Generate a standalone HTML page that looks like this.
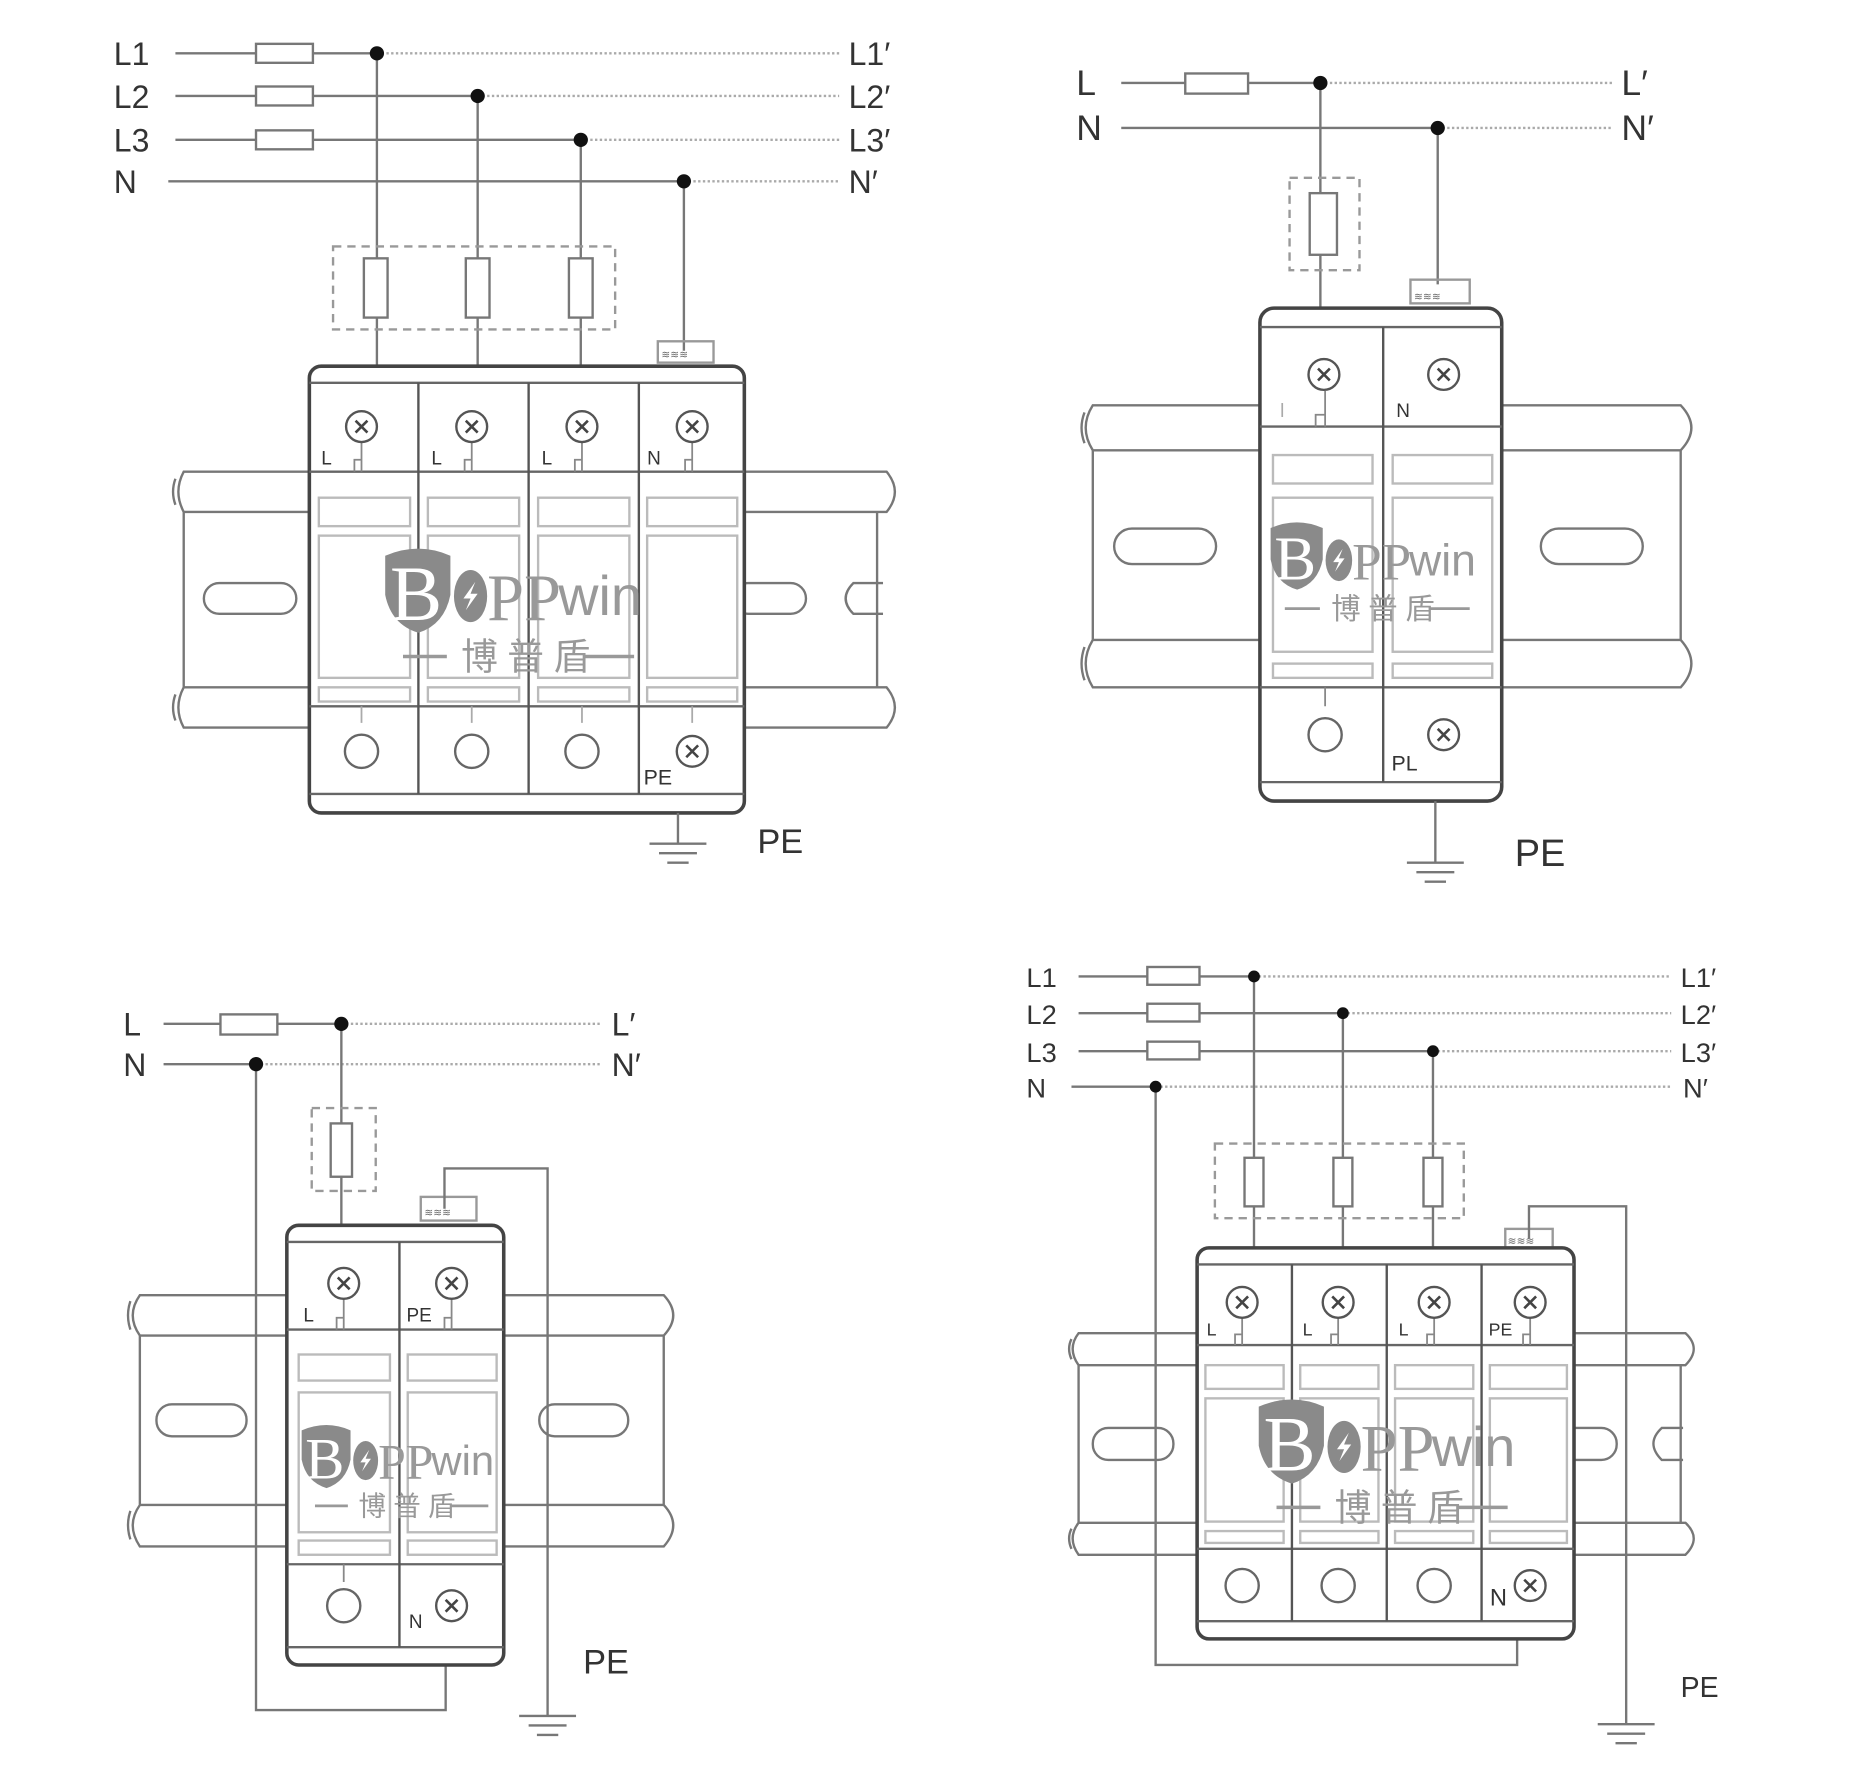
<!DOCTYPE html>
<html><head><meta charset="utf-8"><style>html,body{margin:0;padding:0;background:#fff}svg{display:block}</style></head>
<body>
<svg width="1849" height="1774" viewBox="0 0 1560 1497" preserveAspectRatio="none" xmlns="http://www.w3.org/2000/svg" font-family="Liberation Sans, sans-serif">
<defs>
<g id="sc"><circle r="13" fill="#fff" stroke="#555" stroke-width="2"/><path d="M-5,-5L5,5M5,-5L-5,5" stroke="#444" stroke-width="2.2"/></g>
<g id="oc"><circle r="14" fill="#fff" stroke="#666" stroke-width="2"/></g>
</defs>
<rect width="1560" height="1497" fill="#fff"/>
<g fill="none" stroke="#777" stroke-width="2">

<path d="M148,45H318M148,81H403M148,118H490M142,153H577"/>
<path d="M318,45H708M403,81H708M490,118H708M577,153H708" stroke="#aaa" stroke-dasharray="2,2"/>
<rect x="216" y="37" width="48" height="16" fill="#fff"/><rect x="216" y="73" width="48" height="16" fill="#fff"/><rect x="216" y="110" width="48" height="16" fill="#fff"/>
<path d="M318,45V310M403,81V310M490,118V310M577,153V296"/>
<rect x="281" y="208" width="238" height="70" stroke="#999" stroke-dasharray="7,5"/>
<rect x="307" y="218" width="20" height="50" fill="#fff"/><rect x="393" y="218" width="20" height="50" fill="#fff"/><rect x="480" y="218" width="20" height="50" fill="#fff"/>
<rect x="555" y="288" width="47" height="18" stroke="#999"/>
<path d="M261,398H155Q146,415 155,432H261M155,432V580M261,580H155Q146,597 155,614H261" />
<path d="M148,404Q144,415 148,426M148,586Q144,597 148,608"/>
<rect x="172" y="492" width="78" height="26" rx="13"/>
<path d="M628,398H748Q762,415 748,432H628M740,432V580M628,580H748Q762,597 748,614H628"/>
<rect x="618" y="492" width="62" height="26" rx="13"/><path d="M745,492H720Q707,505 720,518H745"/>
<rect x="261" y="309" width="367" height="377" rx="10" stroke="#444" stroke-width="3" fill="#fff"/>
<path d="M261,323H628M261,398H628M261,596H628M261,670H628" stroke="#666"/>
<path d="M353,323V670M446,323V670M539,323V670" stroke="#555"/>
<g stroke="#bbb">
<rect x="269" y="420" width="77" height="24"/><rect x="361" y="420" width="77" height="24"/><rect x="454" y="420" width="77" height="24"/><rect x="546" y="420" width="76" height="24"/>
<rect x="269" y="452" width="77" height="120"/><rect x="361" y="452" width="77" height="120"/><rect x="454" y="452" width="77" height="120"/><rect x="546" y="452" width="76" height="120"/>
<rect x="269" y="580" width="77" height="12"/><rect x="361" y="580" width="77" height="12"/><rect x="454" y="580" width="77" height="12"/><rect x="546" y="580" width="76" height="12"/>
</g>
<path d="M305,373V398M299,398V388H305M398,373V398M392,398V388H398M491,373V398M485,398V388H491M584,373V398M578,398V388H584" stroke="#888" stroke-width="1.5"/>
<path d="M305,596V610M398,596V610M491,596V610M584,596V610" stroke="#aaa" stroke-width="1.5"/>
<path d="M572,686V712M548,712H596M556,720H588M563,728H581"/>

<path d="M946,70H1114M946,108H1213"/>
<path d="M1114,70H1360M1213,108H1360" stroke="#aaa" stroke-dasharray="2,2"/>
<rect x="1000" y="62" width="53" height="17" fill="#fff"/>
<path d="M1114,70V260M1213,108V240"/>
<rect x="1088" y="150" width="59" height="78" stroke="#999" stroke-dasharray="7,5"/>
<rect x="1105" y="163" width="23" height="52" fill="#fff"/>
<rect x="1190" y="236" width="50" height="20" stroke="#999"/>
<path d="M1063,342H922Q910,361 922,380H1063M922,380V540M1063,540H922Q910,560 922,580H1063"/>
<path d="M915,348Q910,361 915,374M915,546Q910,560 915,574"/>
<rect x="940" y="446" width="86" height="30" rx="15"/>
<path d="M1267,342H1418Q1436,361 1418,380H1267M1418,380V540M1267,540H1418Q1436,560 1418,580H1267"/>
<rect x="1300" y="446" width="86" height="30" rx="15"/>
<rect x="1063" y="260" width="204" height="416" rx="12" stroke="#444" stroke-width="3" fill="#fff"/>
<path d="M1063,276H1267M1063,360H1267M1063,580H1267M1063,660H1267" stroke="#666"/>
<path d="M1167,276V660" stroke="#555"/>
<g stroke="#bbb">
<rect x="1074" y="384" width="84" height="24"/><rect x="1175" y="384" width="84" height="24"/>
<rect x="1074" y="420" width="84" height="130"/><rect x="1175" y="420" width="84" height="130"/>
<rect x="1074" y="560" width="84" height="12"/><rect x="1175" y="560" width="84" height="12"/>
</g>
<path d="M1118,330V360M1110,360V350H1118M1118,580V596" stroke="#888" stroke-width="1.5"/>
<path d="M1211,676V728M1187,728H1235M1195,736H1227M1202,744H1220"/>

<path d="M138,864H288M138,898H216"/>
<path d="M288,864H508M216,898H508" stroke="#aaa" stroke-dasharray="2,2"/>
<rect x="186" y="856" width="48" height="17" fill="#fff"/>
<path d="M288,864V1034M216,898V1443H376V1405"/>
<rect x="263" y="935" width="54" height="70" stroke="#999" stroke-dasharray="7,5"/>
<rect x="279" y="948" width="18" height="45" fill="#fff"/>
<rect x="355" y="1010" width="47" height="20" stroke="#999"/>
<path d="M375,1020V986H462V1448M438,1448H486M446,1456H478M453,1464H471"/>
<path d="M242,1093H118Q106,1110 118,1127H242M118,1127V1270M242,1270H118Q106,1287 118,1305H242"/>
<path d="M110,1098Q106,1110 110,1122M110,1275Q106,1287 110,1299"/>
<rect x="132" y="1185" width="76" height="27" rx="13"/>
<path d="M425,1093H560Q576,1110 560,1127H425M560,1127V1270M425,1270H560Q576,1287 560,1305H425"/>
<rect x="455" y="1185" width="75" height="27" rx="13"/>
<rect x="242" y="1034" width="183" height="371" rx="10" stroke="#444" stroke-width="3" fill="#fff"/>
<path d="M242,1048H425M242,1122H425M242,1320H425M242,1390H425" stroke="#666"/>
<path d="M337,1048V1390" stroke="#555"/>
<g stroke="#bbb">
<rect x="252" y="1143" width="77" height="22"/><rect x="344" y="1143" width="75" height="22"/>
<rect x="252" y="1175" width="77" height="118"/><rect x="344" y="1175" width="75" height="118"/>
<rect x="252" y="1300" width="77" height="12"/><rect x="344" y="1300" width="75" height="12"/>
</g>
<path d="M290,1095V1122M284,1122V1112H290M381,1095V1122M375,1122V1112H381M290,1320V1335" stroke="#888" stroke-width="1.5"/>

<path d="M910,824H1058M910,855H1133M910,887H1209M904,917H975"/>
<path d="M1058,824H1410M1133,855H1410M1209,887H1410M975,917H1410" stroke="#aaa" stroke-dasharray="2,2"/>
<rect x="968" y="816" width="44" height="15" fill="#fff"/><rect x="968" y="847" width="44" height="15" fill="#fff"/><rect x="968" y="879" width="44" height="15" fill="#fff"/>
<path d="M1058,824V1053M1133,855V1053M1209,887V1053M975,917V1405H1280V1383"/>
<rect x="1025" y="965" width="210" height="63" stroke="#999" stroke-dasharray="7,5"/>
<rect x="1050" y="977" width="16" height="41" fill="#fff"/><rect x="1125" y="977" width="16" height="41" fill="#fff"/><rect x="1201" y="977" width="16" height="41" fill="#fff"/>
<rect x="1270" y="1037" width="40" height="16" stroke="#999"/>
<path d="M1290,1045V1018H1372V1455M1348,1455H1396M1356,1463H1388M1363,1471H1381"/>
<path d="M1010,1125H910Q900,1138 910,1152H1010M910,1152V1285M1010,1285H910Q900,1298 910,1312H1010"/>
<path d="M904,1130Q900,1138 904,1147M904,1290Q900,1298 904,1307"/>
<rect x="922" y="1205" width="68" height="27" rx="13"/>
<path d="M1328,1125H1422Q1436,1138 1422,1152H1328M1418,1152V1285M1328,1285H1422Q1436,1298 1422,1312H1328"/>
<rect x="1316" y="1205" width="48" height="27" rx="13"/><path d="M1420,1205H1402Q1388,1218 1402,1232H1420"/>
<rect x="1010" y="1053" width="318" height="330" rx="10" stroke="#444" stroke-width="3" fill="#fff"/>
<path d="M1010,1067H1328M1010,1135H1328M1010,1307H1328M1010,1368H1328" stroke="#666"/>
<path d="M1090,1067V1368M1170,1067V1368M1250,1067V1368" stroke="#555"/>
<g stroke="#bbb">
<rect x="1017" y="1152" width="66" height="20"/><rect x="1097" y="1152" width="66" height="20"/><rect x="1177" y="1152" width="66" height="20"/><rect x="1257" y="1152" width="65" height="20"/>
<rect x="1017" y="1180" width="66" height="104"/><rect x="1097" y="1180" width="66" height="104"/><rect x="1177" y="1180" width="66" height="104"/><rect x="1257" y="1180" width="65" height="104"/>
<rect x="1017" y="1292" width="66" height="10"/><rect x="1097" y="1292" width="66" height="10"/><rect x="1177" y="1292" width="66" height="10"/><rect x="1257" y="1292" width="65" height="10"/>
</g>
<path d="M1048,1110V1135M1042,1135V1126H1048M1129,1110V1135M1123,1135V1126H1129M1210,1110V1135M1204,1135V1126H1210M1291,1110V1135M1285,1135V1126H1291" stroke="#888" stroke-width="1.5"/>
</g>

<g fill="#111">
<circle cx="318" cy="45" r="6"/><circle cx="403" cy="81" r="6"/><circle cx="490" cy="118" r="6"/><circle cx="577" cy="153" r="6"/>
<circle cx="1114" cy="70" r="6"/><circle cx="1213" cy="108" r="6"/>
<circle cx="288" cy="864" r="6"/><circle cx="216" cy="898" r="6"/>
<circle cx="1058" cy="824" r="5"/><circle cx="1133" cy="855" r="5"/><circle cx="1209" cy="887" r="5"/><circle cx="975" cy="917" r="5"/>
</g>
<g font-size="9" fill="#666">
<text x="558" y="302">≋≋≋</text><text x="1193" y="253">≋≋≋</text><text x="358" y="1026">≋≋≋</text><text x="1272" y="1050">≋≋≋</text>
</g>

<use href="#sc" x="305" y="360"/><use href="#sc" x="398" y="360"/><use href="#sc" x="491" y="360"/><use href="#sc" x="584" y="360"/>
<use href="#oc" x="305" y="634"/><use href="#oc" x="398" y="634"/><use href="#oc" x="491" y="634"/><use href="#sc" x="584" y="634"/>
<use href="#sc" x="1117" y="316"/><use href="#sc" x="1218" y="316"/><use href="#oc" x="1118" y="620"/><use href="#sc" x="1218" y="620"/>
<use href="#sc" x="290" y="1083"/><use href="#sc" x="381" y="1083"/><use href="#oc" x="290" y="1355"/><use href="#sc" x="381" y="1355"/>
<use href="#sc" x="1048" y="1099"/><use href="#sc" x="1129" y="1099"/><use href="#sc" x="1210" y="1099"/><use href="#sc" x="1291" y="1099"/>
<use href="#oc" x="1048" y="1338"/><use href="#oc" x="1129" y="1338"/><use href="#oc" x="1210" y="1338"/><use href="#sc" x="1291" y="1338"/>

<g fill="#333" font-size="27">
<text x="96" y="55">L1</text><text x="96" y="91">L2</text><text x="96" y="128">L3</text><text x="96" y="163">N</text>
<text x="716" y="55">L1′</text><text x="716" y="91">L2′</text><text x="716" y="128">L3′</text><text x="716" y="163">N′</text>
<text x="908" y="80" font-size="30">L</text><text x="908" y="118" font-size="30">N</text>
<text x="1368" y="80" font-size="30">L′</text><text x="1368" y="118" font-size="30">N′</text>
<text x="104" y="874">L</text><text x="104" y="908">N</text><text x="516" y="874">L′</text><text x="516" y="908">N′</text>
<text x="866" y="833" font-size="23">L1</text><text x="866" y="864" font-size="23">L2</text><text x="866" y="896" font-size="23">L3</text><text x="866" y="926" font-size="23">N</text>
<text x="1418" y="833" font-size="23">L1′</text><text x="1418" y="864" font-size="23">L2′</text><text x="1418" y="896" font-size="23">L3′</text><text x="1420" y="926" font-size="23">N′</text>
<text x="639" y="720" font-size="29">PE</text><text x="1278" y="731" font-size="32">PE</text><text x="492" y="1412" font-size="29">PE</text><text x="1418" y="1432" font-size="24">PE</text>
</g>
<g fill="#333" font-size="16">
<text x="271" y="392">L</text><text x="364" y="392">L</text><text x="457" y="392">L</text><text x="546" y="392">N</text><text x="543" y="662" font-size="18">PE</text>
<text x="1080" y="352" fill="#aaa">l</text><text x="1178" y="352">N</text><text x="1174" y="650" font-size="18">PL</text>
<text x="256" y="1115">L</text><text x="343" y="1115">PE</text><text x="345" y="1374">N</text>
<text x="1018" y="1127" font-size="15">L</text><text x="1099" y="1127" font-size="15">L</text><text x="1180" y="1127" font-size="15">L</text><text x="1256" y="1127" font-size="15">PE</text><text x="1257" y="1355" font-size="20">N</text>
</g>

<g transform="translate(435,497)">
<path d="M-110,-28Q-82,-40 -55,-28L-55,5Q-60,30 -82,37Q-105,30 -110,5Z" fill="#8a8a8a"/>
<text x="-106" y="26" font-family="Liberation Serif, serif" font-size="66" fill="#fff">B</text>
<ellipse cx="-38" cy="6" rx="14" ry="22" fill="#8a8a8a"/><path d="M-34,-6L-44,8H-38L-42,18L-32,4H-38Z" fill="#fff"/>
<text x="-24" y="26" font-family="Liberation Serif, serif" font-size="56" fill="#999">PP</text>
<text x="36" y="22" font-size="47" fill="#999">win</text>
<path d="M-95,57H-58M58,57H100" stroke="#999" stroke-width="3"/>
<text x="-46" y="68" font-family="Liberation Sans, Noto Sans CJK SC, sans-serif" font-size="31" fill="#999" letter-spacing="8">博普盾</text>
</g>
<g transform="translate(1160,468) scale(0.8)">
<path d="M-110,-28Q-82,-40 -55,-28L-55,5Q-60,30 -82,37Q-105,30 -110,5Z" fill="#8a8a8a"/>
<text x="-106" y="26" font-family="Liberation Serif, serif" font-size="66" fill="#fff">B</text>
<ellipse cx="-38" cy="6" rx="14" ry="22" fill="#8a8a8a"/><path d="M-34,-6L-44,8H-38L-42,18L-32,4H-38Z" fill="#fff"/>
<text x="-24" y="26" font-family="Liberation Serif, serif" font-size="56" fill="#999">PP</text>
<text x="36" y="22" font-size="47" fill="#999">win</text>
<path d="M-95,57H-58M58,57H100" stroke="#999" stroke-width="3"/>
<text x="-46" y="68" font-family="Liberation Sans, Noto Sans CJK SC, sans-serif" font-size="31" fill="#999" letter-spacing="8">博普盾</text>
</g>
<g transform="translate(337,1228) scale(0.75)">
<path d="M-110,-28Q-82,-40 -55,-28L-55,5Q-60,30 -82,37Q-105,30 -110,5Z" fill="#8a8a8a"/>
<text x="-106" y="26" font-family="Liberation Serif, serif" font-size="66" fill="#fff">B</text>
<ellipse cx="-38" cy="6" rx="14" ry="22" fill="#8a8a8a"/><path d="M-34,-6L-44,8H-38L-42,18L-32,4H-38Z" fill="#fff"/>
<text x="-24" y="26" font-family="Liberation Serif, serif" font-size="56" fill="#999">PP</text>
<text x="36" y="22" font-size="47" fill="#999">win</text>
<path d="M-95,57H-58M58,57H100" stroke="#999" stroke-width="3"/>
<text x="-46" y="68" font-family="Liberation Sans, Noto Sans CJK SC, sans-serif" font-size="31" fill="#999" letter-spacing="8">博普盾</text>
</g>
<g transform="translate(1172,1215)">
<path d="M-110,-28Q-82,-40 -55,-28L-55,5Q-60,30 -82,37Q-105,30 -110,5Z" fill="#8a8a8a"/>
<text x="-106" y="26" font-family="Liberation Serif, serif" font-size="66" fill="#fff">B</text>
<ellipse cx="-38" cy="6" rx="14" ry="22" fill="#8a8a8a"/><path d="M-34,-6L-44,8H-38L-42,18L-32,4H-38Z" fill="#fff"/>
<text x="-24" y="26" font-family="Liberation Serif, serif" font-size="56" fill="#999">PP</text>
<text x="36" y="22" font-size="47" fill="#999">win</text>
<path d="M-95,57H-58M58,57H100" stroke="#999" stroke-width="3"/>
<text x="-46" y="68" font-family="Liberation Sans, Noto Sans CJK SC, sans-serif" font-size="31" fill="#999" letter-spacing="8">博普盾</text>
</g>
</svg>
</body></html>
